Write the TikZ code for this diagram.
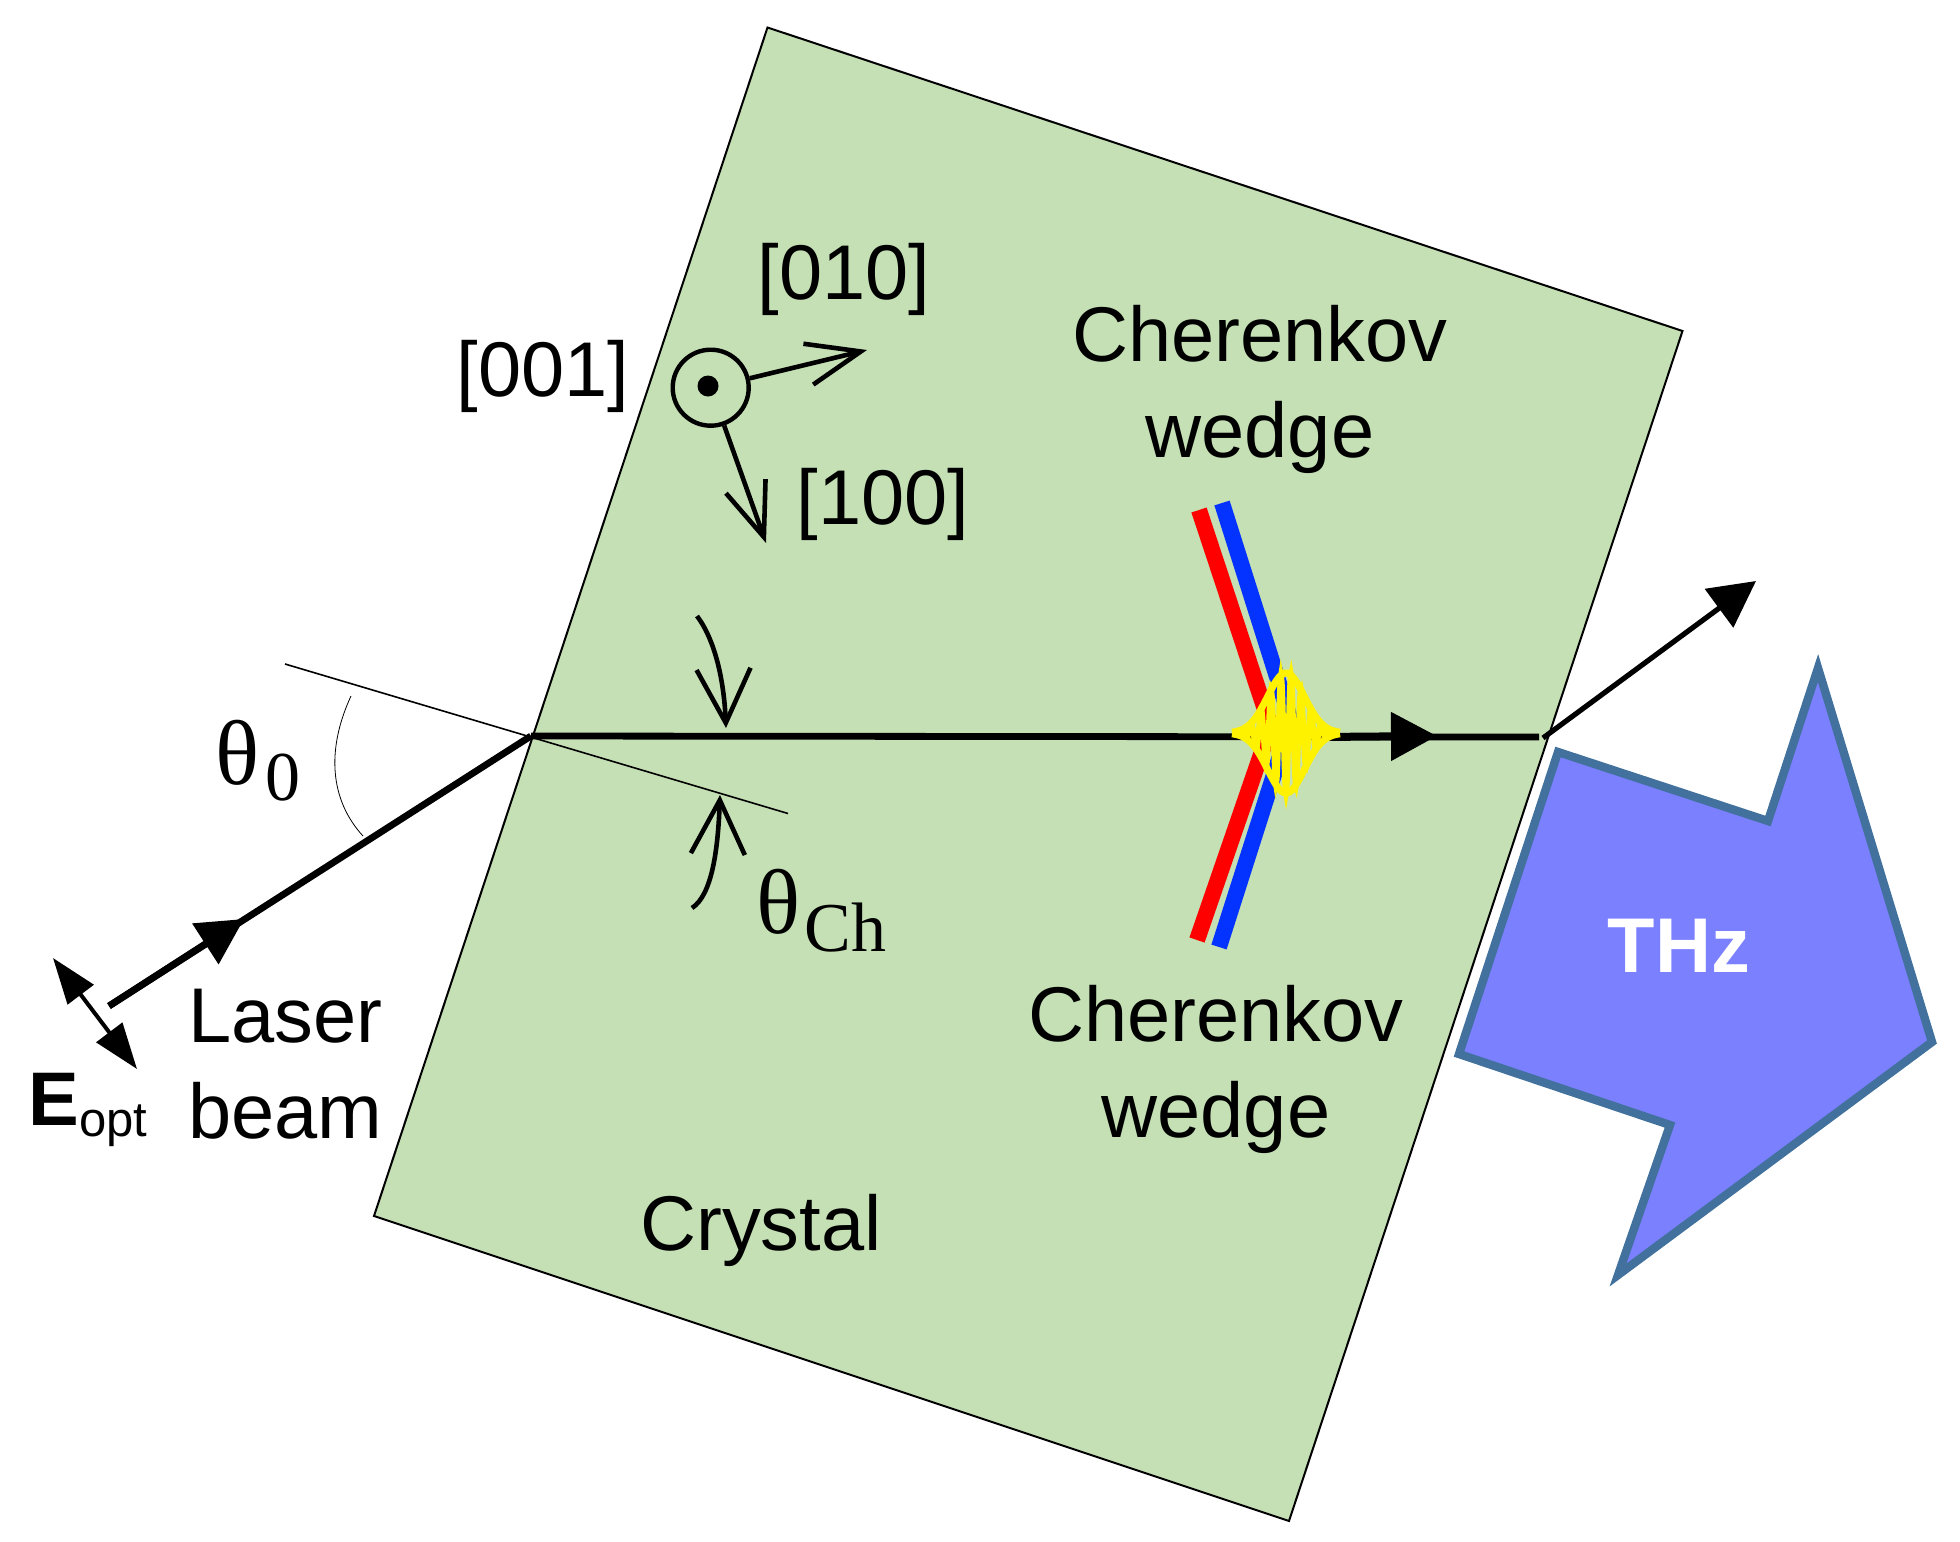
\documentclass[tikz,border=0pt]{standalone}
\usepackage{fontspec}
\setmainfont{Liberation Sans}
\newfontfamily\thetafont{Liberation Serif}
\usetikzlibrary{arrows.meta}
\definecolor{crystalgreen}{HTML}{C5E0B4}
\definecolor{thzfill}{HTML}{7B80FF}
\definecolor{thzline}{HTML}{41719C}
\definecolor{wedgeblue}{HTML}{0433FF}
\newcommand{\lblsize}{\fontsize{38.8}{48}\selectfont}
\newcommand{\thetasize}{\fontsize{46}{50}\selectfont\thetafont}
\newcommand{\subsize}{\fontsize{35}{38}\selectfont\thetafont}

\tikzset{
  lbl/.style={inner sep=0pt,align=center,font=\lblsize},
  leftlbl/.style={inner sep=0pt,align=left,font=\lblsize},
  beam/.style={line width=3.4pt},
  thin line/.style={line width=0.8pt},
  bigtip/.style={-{Triangle[length=23pt,width=23.5pt]}},
  curlytip/.style={line width=2.3pt,-{Straight Barb[length=27pt,width=27pt]}},
  axistip/.style={line width=2.3pt,-{Straight Barb[length=27pt,width=21pt]}}
}

\begin{document}
\begin{tikzpicture}[x=0.5pt,y=-0.5pt]
      \useasboundingbox (0,0) rectangle (1960,1542);

      \draw[fill=crystalgreen,line width=1pt] (767.5,27.5) -- (1682.5,331) -- (1289,1521) -- (374,1216) -- cycle;
      \draw[fill=thzfill,draw=thzline,line width=4.2pt,miter limit=10] (1558,752) -- (1768,821) -- (1818,668) -- (1932,1042) -- (1618,1275) -- (1670,1125) -- (1459,1054) -- cycle;

      \coordinate (normalstart) at (285,664);
      \coordinate (normalend) at (788,813.5);
      \coordinate (apex) at (531,736);
      \coordinate (laserstart) at (109,1006);
      \coordinate (laserhead) at (244,919);
      \coordinate (pulsestart) at (1320,737);
      \coordinate (beamhead) at (1437,736);
      \coordinate (beamend) at (1539,737);
      \coordinate (exitstart) at (1543,738);
      \coordinate (exittip) at (1756,581);

      \draw[thin line] (normalstart) -- (normalend);
      \draw[line width=0.4pt] (351,696) .. controls (326,750) and (330,800) .. (363,836);

      \draw[beam] (laserstart) -- (apex);
      \draw[beam,bigtip] (laserstart) -- (laserhead);
      \draw[beam] (apex) -- (beamend);
      \draw[line width=4pt,bigtip] (pulsestart) -- (beamhead);
      \draw[line width=2.6pt,bigtip] (exitstart) -- (exittip);

      \draw[curlytip] (697,616) .. controls (715,640) and (724,680) .. (726,728);
      \draw[curlytip] (692,908) .. controls (712,895) and (718,850) .. (720,795);

      \draw[line width=2pt,{Triangle[length=23pt,width=16pt]}-{Triangle[length=23pt,width=16pt]}] (53,958) -- (137,1069);

      \node[circle,draw,line width=2.2pt,minimum size=38pt,inner sep=0pt] (axis) at (710.7,387.7) {};
      \node[circle,fill,minimum size=10.5pt,inner sep=0pt] (axisdot) at (708,386) {};
      \coordinate (axis010) at (867,350);
      \coordinate (axis100) at (766,543);
      \draw[axistip] (axis) -- (axis010);
      \draw[axistip] (axis) -- (axis100);

      \draw[wedgeblue,line width=8pt] (1222,503) -- (1296,737);
      \draw[red,line width=8pt] (1199,510) -- (1274,737);
      \draw[wedgeblue,line width=8pt] (1219,947) -- (1286,737);
      \draw[red,line width=8pt] (1197,940) -- (1267,737);

      \begin{scope}[shift={(1286,733)}]
        \draw[yellow,line width=2.8pt] plot[domain=-52:52,samples=209] (\x,{60*exp(-(\x*\x)/676)*cos(36*\x)});
        \draw[yellow,line width=3.5pt] plot[domain=-54:54,samples=60] (\x,{60*exp(-(\x*\x)/676)});
        \draw[yellow,line width=3.5pt] plot[domain=-54:54,samples=60] (\x,{-60*exp(-(\x*\x)/676)});
      \end{scope}

      \node[lbl] (l010) at (844,279) {[010]};
      \node[lbl] (l001) at (543,376) {[001]};
      \node[lbl] (l100) at (883,504) {[100]};
      \node[lbl] (wedgeup) at (1260,389) {Cherenkov\\wedge};
      \node[lbl] (wedgedown) at (1216,1069) {Cherenkov\\wedge};
      \node[lbl,anchor=base] (crystal) at (761,1250) {Crystal};
      \node[leftlbl,anchor=west] (laser) at (188,1064) {Laser\\beam};
      \node[lbl,anchor=base west,font=\fontsize{38}{47}\selectfont] (eopt) at (28,1125) {\textbf{E}\raisebox{-5.5pt}{\fontsize{24.5}{28}\selectfont opt}};
      \node[lbl,text=white,font=\lblsize\bfseries] (thz) at (1679,946) {THz};
      \node[inner sep=0pt,anchor=base west] (theta0) at (215,784) {\thetasize θ\kern3pt\raisebox{-8pt}{\subsize 0}};
      \node[inner sep=0pt,anchor=base west] (thetach) at (756,933) {\thetasize θ\kern2pt\raisebox{-9pt}{\subsize Ch}};
    \end{tikzpicture}
\end{document}
